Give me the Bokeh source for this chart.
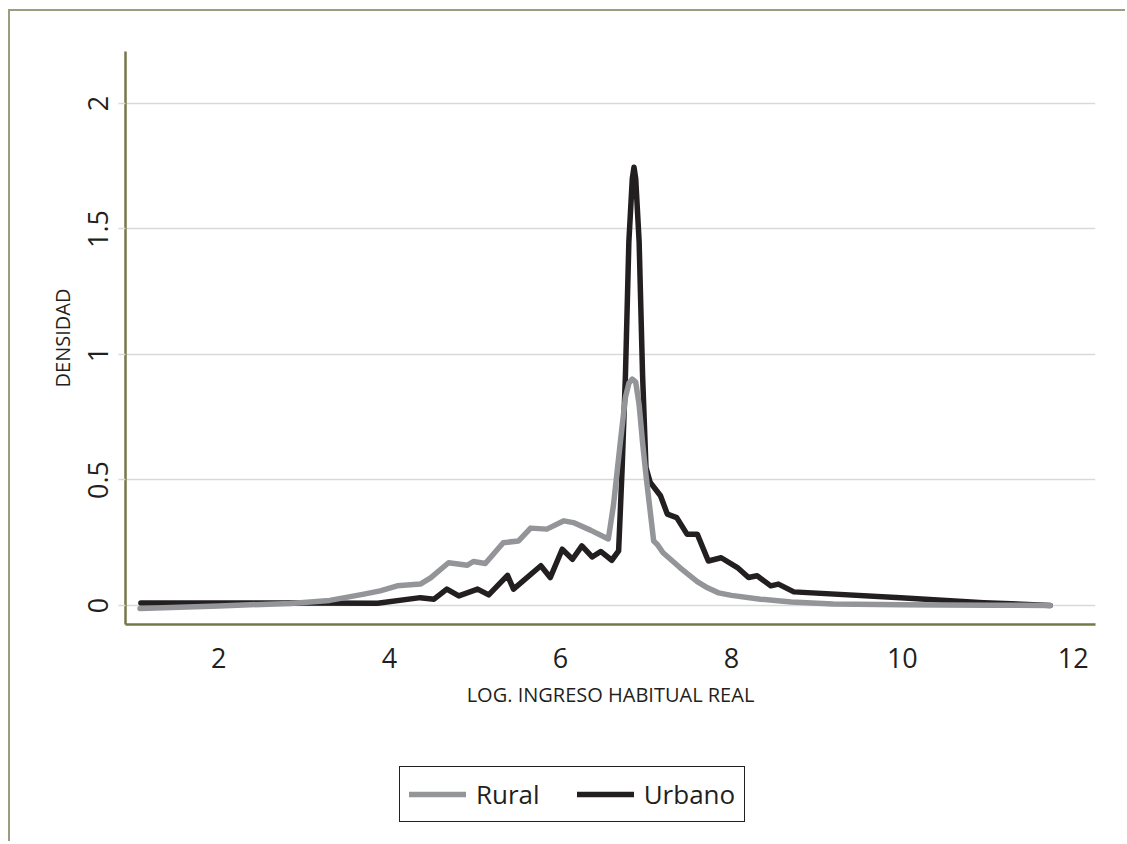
from bokeh.plotting import figure
from bokeh.layouts import column
from bokeh.models import Range1d, FixedTicker, Legend, LegendItem
from bokeh.embed import file_html
from bokeh.resources import INLINE

# ---- data ----
rural_x = [1.08, 2.0, 2.84, 3.3, 3.70, 3.89, 4.09, 4.36, 4.48, 4.69, 4.80, 4.91, 4.98, 5.12,
           5.33, 5.51, 5.65, 5.84, 6.04, 6.15, 6.35, 6.56, 6.62, 6.70, 6.76, 6.80, 6.84,
           6.88, 6.92, 6.96, 7.00, 7.09, 7.13, 7.2, 7.4, 7.6, 7.72, 7.85, 8.0, 8.34, 8.7,
           9.19, 10.0, 11.0, 11.73]
rural_y = [-0.012, -0.002, 0.008, 0.02, 0.045, 0.058, 0.078, 0.085, 0.11, 0.17, 0.165, 0.16,
           0.175, 0.167, 0.25, 0.257, 0.308, 0.304, 0.337, 0.33, 0.30, 0.265, 0.40, 0.65,
           0.83, 0.885, 0.902, 0.89, 0.80, 0.65, 0.52, 0.257, 0.244, 0.21, 0.15, 0.095,
           0.07, 0.05, 0.04, 0.025, 0.014, 0.006, 0.003, 0.001, 0.0]

urbano_x = [1.09, 2.0, 3.0, 3.86, 4.36, 4.52, 4.67, 4.81, 5.03, 5.16, 5.38, 5.45, 5.77, 5.88,
            6.02, 6.14, 6.25, 6.37, 6.47, 6.60, 6.68, 6.72, 6.76, 6.80, 6.84, 6.86, 6.88,
            6.92, 6.96, 7.00, 7.05, 7.17, 7.25, 7.36, 7.48, 7.60, 7.73, 7.88, 8.07, 8.20,
            8.30, 8.46, 8.55, 8.73, 9.98, 10.95, 11.73]
urbano_y = [0.01, 0.01, 0.01, 0.009, 0.031, 0.025, 0.065, 0.038, 0.065, 0.042, 0.12, 0.065,
            0.158, 0.111, 0.224, 0.184, 0.237, 0.193, 0.215, 0.18, 0.217, 0.537, 0.92, 1.45,
            1.70, 1.746, 1.70, 1.45, 0.92, 0.55, 0.49, 0.437, 0.364, 0.35, 0.284, 0.284,
            0.177, 0.19, 0.151, 0.111, 0.118, 0.078, 0.085, 0.054, 0.031, 0.011, 0.0]

series_names = ["Rural", "Urbano"]
x_ticks = [2, 4, 6, 8, 10, 12]
y_ticks = [0, 0.5, 1, 1.5, 2]
y_tick_labels = ["0", "0.5", "1", "1.5", "2"]

FONT = "Open Sans"
TXT = "#231f20"
AXIS = "#74774a"
FRAME = "#9a9d80"
GRAY = "#939598"
BLACK = "#231f20"

p = figure(width=1115, height=720, output_backend="svg", toolbar_location=None,
           x_range=Range1d(0.91, 12.26), y_range=Range1d(-0.076, 2.207),
           min_border_left=115, min_border_right=30, min_border_top=40,
           min_border_bottom=107)
p.outline_line_color = None

# grid
p.xgrid.grid_line_color = None
p.ygrid.grid_line_color = "#d9d9d9"
p.ygrid.grid_line_width = 1.5

# x axis
p.xaxis.ticker = FixedTicker(ticks=x_ticks)
p.xaxis.axis_line_color = AXIS
p.xaxis.axis_line_width = 2.5
p.xaxis.major_tick_line_color = None
p.xaxis.minor_tick_line_color = None
p.xaxis.major_tick_out = 0
p.xaxis.major_label_standoff = 23
p.xaxis.major_label_text_font = FONT
p.xaxis.major_label_text_font_size = "27px"
p.xaxis.major_label_text_color = TXT
p.xaxis.axis_label = "LOG. INGRESO HABITUAL REAL"
p.xaxis.axis_label_text_font = FONT
p.xaxis.axis_label_text_font_style = "normal"
p.xaxis.axis_label_text_font_size = "20px"
p.xaxis.axis_label_text_color = TXT
p.xaxis.axis_label_standoff = 10

# y axis
p.yaxis.ticker = FixedTicker(ticks=y_ticks)
p.yaxis.major_label_overrides = {t: s for t, s in zip(y_ticks, y_tick_labels)}
p.yaxis.axis_line_color = AXIS
p.yaxis.axis_line_width = 2.5
p.yaxis.major_tick_line_color = "#d9d9d9"
p.yaxis.major_tick_line_width = 1.5
p.yaxis.major_tick_out = 7
p.yaxis.major_tick_in = 0
p.yaxis.minor_tick_line_color = None
p.yaxis.major_label_orientation = "vertical"
p.yaxis.major_label_standoff = 10
p.yaxis.major_label_text_font = FONT
p.yaxis.major_label_text_font_size = "27px"
p.yaxis.major_label_text_color = TXT
p.yaxis.axis_label = "DENSIDAD"
p.yaxis.axis_label_text_font = FONT
p.yaxis.axis_label_text_font_style = "normal"
p.yaxis.axis_label_text_font_size = "20px"
p.yaxis.axis_label_text_color = TXT
p.yaxis.axis_label_standoff = 10

p.line(urbano_x, urbano_y, line_color=BLACK, line_width=5.5,
       line_join="round", line_cap="round")
p.line(rural_x, rural_y, line_color=GRAY, line_width=5.5,
       line_join="round", line_cap="round")

# ---- legend strip (separate canvas so it is not clipped by the plot frame) ----
# the same series are drawn there far outside the visible range, only as legend keys
q = figure(width=1115, height=110, output_backend="svg", toolbar_location=None,
           x_range=Range1d(0.91, 12.26), y_range=Range1d(100, 101),
           x_axis_type=None, y_axis_type=None,
           min_border_left=0, min_border_right=0, min_border_top=0, min_border_bottom=0)
q.outline_line_color = None
q.xgrid.visible = False
q.ygrid.visible = False
k_rur = q.line(rural_x, rural_y, line_color=GRAY, line_width=5.5, line_cap="round")
k_urb = q.line(urbano_x, urbano_y, line_color=BLACK, line_width=5.5, line_cap="round")
legend = Legend(items=[LegendItem(label=series_names[0], renderers=[k_rur]),
                       LegendItem(label=series_names[1], renderers=[k_urb])],
                orientation="horizontal", location=(274, 19),
                border_line_color="#231f20", border_line_width=1.5, border_line_alpha=1,
                background_fill_color="white", background_fill_alpha=1,
                label_text_font=FONT, label_text_font_size="26px",
                label_text_color=TXT, glyph_width=57, glyph_height=26,
                label_height=26, label_standoff=10, spacing=37, padding=9, margin=0)
q.add_layout(legend, "center")

page = column(p, q, spacing=0, margin=(9, 0, 0, 8),
              styles={"border-left": f"2px solid {FRAME}", "border-top": f"2px solid {FRAME}"})

open("out.html", "w").write(file_html(page, INLINE))
